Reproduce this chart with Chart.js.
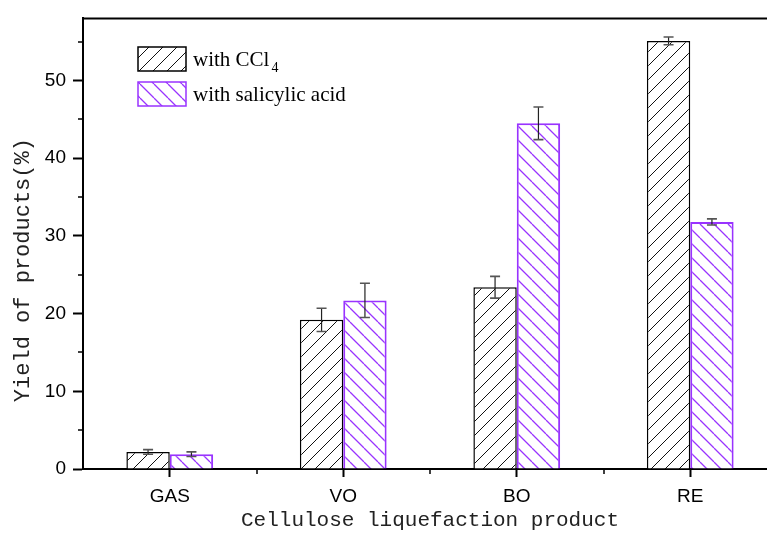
<!DOCTYPE html>
<html>
<head>
<meta charset="utf-8">
<script src="https://cdn.jsdelivr.net/npm/chart.js@4.4.1/dist/chart.umd.min.js"></script>
<style>
  html, body { margin: 0; padding: 0; background: #fff; overflow: hidden; }
  #wrap { width: 767px; height: 542px; overflow: hidden; }
</style>
</head>
<body>
<div id="wrap"><canvas id="yieldChart" width="790" height="542"></canvas></div>
<script>
// donnees
const categories = ['GAS', 'VO', 'BO', 'RE']
const ccl4Values = [2.2, 19.2, 23.4, 55.1]
const ccl4Errors = [0.3, 1.5, 1.4, 0.5]
const salicylicValues = [1.9, 21.7, 44.5, 31.8]
const salicylicErrors = [0.3, 2.2, 2.1, 0.4]
const yTicks = [0, 10, 20, 30, 40, 50]
const yMinorTicks = [5, 15, 25, 35, 45, 55]

const purple = '#9933ff'

// motif hachure : dir 1 = '/', dir -1 = '\'
function hatch(color, dir, size, lw) {
    const c = document.createElement('canvas')
    c.width = size
    c.height = size
    const g = c.getContext('2d')
    g.fillStyle = '#fff'
    g.fillRect(0, 0, size, size)
    g.strokeStyle = color
    g.lineWidth = lw
    g.beginPath()
    for (let k = -1; k <= 1; k++) {
        if (dir > 0) {
            g.moveTo(k * size, size)
            g.lineTo(k * size + size, 0)
        } else {
            g.moveTo(k * size, 0)
            g.lineTo(k * size + size, size)
        }
    }
    g.stroke()
    return g.createPattern(c, 'repeat')
}

const blackHatch = hatch('#111', 1, 14, 1)
const purpleHatch = hatch(purple, -1, 14, 1.3)

// barres d'erreur
const errorBars = {
    id: 'errorBars',
    afterDatasetsDraw(chart) {
        const ctx = chart.ctx
        const y = chart.scales.y
        chart.data.datasets.forEach((ds, i) => {
            const meta = chart.getDatasetMeta(i)
            meta.data.forEach((bar, j) => {
                const v = ds.data[j]
                const e = ds.errors[j]
                const top = y.getPixelForValue(v + e)
                const bot = y.getPixelForValue(v - e)
                ctx.save()
                ctx.strokeStyle = '#222'
                ctx.lineWidth = 1.2
                ctx.beginPath()
                ctx.moveTo(bar.x, top)
                ctx.lineTo(bar.x, bot)
                ctx.stroke()
                ctx.strokeStyle = '#555'
                ctx.lineWidth = 1.6
                ctx.beginPath()
                ctx.moveTo(bar.x - 5, top)
                ctx.lineTo(bar.x + 5, top)
                ctx.moveTo(bar.x - 5, bot)
                ctx.lineTo(bar.x + 5, bot)
                ctx.stroke()
                ctx.restore()
            })
        })
    }
}

// petites graduations + cadre du haut
const frame = {
    id: 'frame',
    afterDraw(chart) {
        const ctx = chart.ctx
        const a = chart.chartArea
        const x = chart.scales.x
        const y = chart.scales.y
        ctx.save()
        ctx.strokeStyle = '#000'
        ctx.lineWidth = 2
        ctx.beginPath()
        ctx.moveTo(a.left - 1, a.top)
        ctx.lineTo(a.right + 1, a.top)
        ctx.moveTo(a.right, a.top)
        ctx.lineTo(a.right, a.bottom)
        ctx.stroke()
        ctx.lineWidth = 1.5
        ctx.beginPath()
        yMinorTicks.forEach(v => {
            const py = Math.round(y.getPixelForValue(v))
            ctx.moveTo(a.left - 5, py)
            ctx.lineTo(a.left, py)
        })
        for (let i = 0; i < categories.length - 1; i++) {
            const px = Math.round((x.getPixelForValue(i) + x.getPixelForValue(i + 1)) / 2)
            ctx.moveTo(px, a.bottom)
            ctx.lineTo(px, a.bottom + 5)
        }
        ctx.stroke()
        ctx.restore()
    }
}

// legende dans la zone du graphique
const insideLegend = {
    id: 'insideLegend',
    afterDraw(chart) {
        const ctx = chart.ctx
        const items = [
            { fill: blackHatch, border: '#000', y: 47, text: 'with CCl', sub: '4' },
            { fill: purpleHatch, border: purple, y: 82, text: 'with salicylic acid', sub: '' }
        ]
        ctx.save()
        items.forEach(it => {
            ctx.fillStyle = it.fill
            ctx.fillRect(138, it.y, 48, 24)
            ctx.strokeStyle = it.border
            ctx.lineWidth = 1.5
            ctx.strokeRect(138, it.y, 48, 24)
            ctx.fillStyle = '#000'
            ctx.textBaseline = 'alphabetic'
            ctx.font = '21px "Liberation Serif", "Times New Roman", serif'
            ctx.fillText(it.text, 193, it.y + 19)
            if (it.sub) {
                const w = ctx.measureText(it.text).width
                ctx.font = '14px "Liberation Serif", "Times New Roman", serif'
                ctx.fillText(it.sub, 195 + w, it.y + 25)
            }
        })
        ctx.restore()
    }
}

new Chart(
    document.getElementById('yieldChart'),
    {
        type: 'bar',
        data: {
            labels: categories,
            datasets: [
                {
                    label: 'with CCl₄',
                    data: ccl4Values,
                    errors: ccl4Errors,
                    backgroundColor: blackHatch,
                    borderColor: '#000',
                    borderWidth: 1.5
                },
                {
                    label: 'with salicylic acid',
                    data: salicylicValues,
                    errors: salicylicErrors,
                    backgroundColor: purpleHatch,
                    borderColor: purple,
                    borderWidth: 2
                }
            ]
        },
        options: {
            responsive: false,
            animation: false,
            devicePixelRatio: 1,
            layout: { padding: { top: 14, right: 13, left: 0, bottom: 0 } },
            datasets: {
                bar: { categoryPercentage: 0.5, barPercentage: 1.0 }
            },
            scales: {
                x: {
                    afterFit: s => { s.height = 73 },
                    grid: { offset: false, drawOnChartArea: false, tickLength: 8, tickWidth: 2, color: '#000' },
                    border: { color: '#000', width: 2 },
                    ticks: {
                        color: '#000',
                        padding: 8,
                        font: { family: '"Liberation Sans", Arial, sans-serif', size: 19 }
                    },
                    title: {
                        display: true,
                        text: 'Cellulose liquefaction product',
                        color: '#222',
                        padding: { top: 0, bottom: 9 },
                        font: { family: '"Liberation Mono", "Courier New", monospace', size: 21 }
                    }
                },
                y: {
                    min: 0,
                    max: 58,
                    afterFit: s => { s.width = 83 },
                    afterBuildTicks: s => { s.ticks = yTicks.map(v => ({ value: v })) },
                    grid: { drawOnChartArea: false, tickLength: 10, tickWidth: 2, color: '#000' },
                    border: { color: '#000', width: 2 },
                    ticks: {
                        color: '#000',
                        padding: 7,
                        font: { family: '"Liberation Sans", Arial, sans-serif', size: 19 }
                    },
                    title: {
                        display: true,
                        text: 'Yield of products(%)    ',
                        color: '#222',
                        padding: { top: 10, bottom: 0 },
                        font: { family: '"Liberation Mono", "Courier New", monospace', size: 22 }
                    }
                }
            },
            plugins: {
                legend: { display: false },
                tooltip: { enabled: false }
            }
        },
        plugins: [errorBars, frame, insideLegend]
    }
)
</script>
</body>
</html>
